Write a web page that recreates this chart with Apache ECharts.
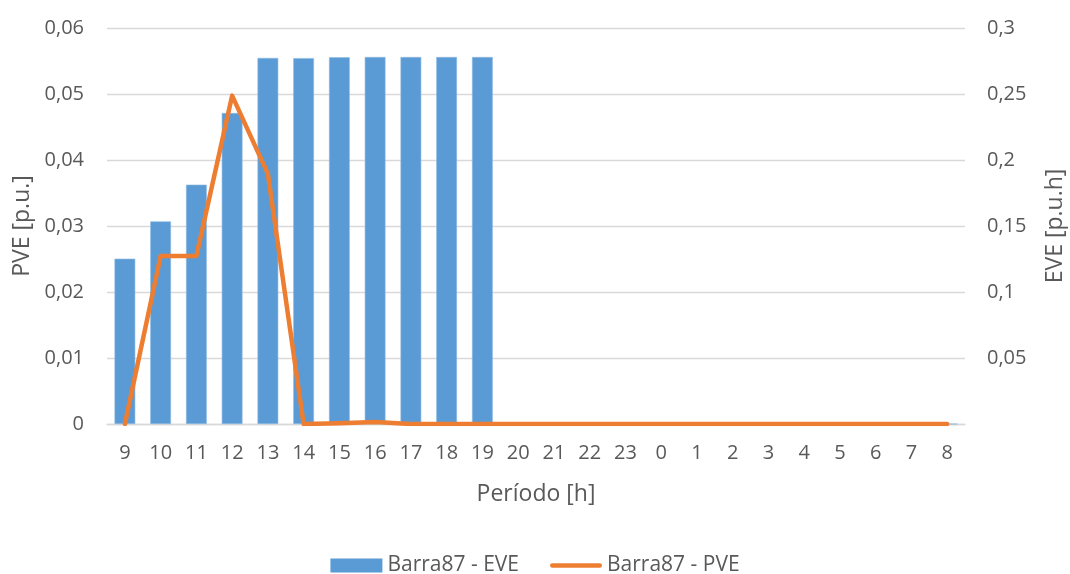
<!DOCTYPE html>
<html>
<head>
<meta charset="utf-8">
<script src="https://cdn.jsdelivr.net/npm/echarts@6/dist/echarts.min.js"></script>
<style>
  html, body { margin: 0; padding: 0; background: #ffffff; }
  #chart { width: 1070px; height: 574px; }
</style>
</head>
<body>
<div id="chart"></div>
<script>
// Hours of the day, starting at 9h
const hours = ['9','10','11','12','13','14','15','16','17','18','19','20','21','22','23','0','1','2','3','4','5','6','7','8'];
// Barra87 energy (EVE) [p.u.h] — right axis
const eveValues = [0.1252, 0.1535, 0.1813, 0.2356, 0.2773, 0.2772, 0.2778, 0.2780, 0.2780, 0.2780, 0.2780, 0, 0, 0, 0, 0, 0, 0, 0, 0, 0, 0, 0, 0];
// Barra87 power (PVE) [p.u.] — left axis
const pveValues = [0, 0.02545, 0.02545, 0.04975, 0.0379, 0, 0.0001, 0.0003, 0, 0, 0, 0, 0, 0, 0, 0, 0, 0, 0, 0, 0, 0, 0, 0];
const seriesNames = ['Barra87 - EVE', 'Barra87 - PVE'];

const textColor = '#595959';
const gridColor = '#d9d9d9';
const barColor = '#5B9BD5';
const lineColor = '#ED7D31';
const font = '"Open Sans", sans-serif';

function decimalComma(v) {
  return String(+v.toFixed(4)).replace('.', ',');
}

// thick rounded stroke used as the line series' legend key
const lineKey = 'path://M2.5,0 L53.5,0 A2.5,2.5 0 0 1 53.5,5 L2.5,5 A2.5,2.5 0 0 1 2.5,0 Z';

const chart = echarts.init(document.getElementById('chart'), null, { renderer: 'canvas' });
chart.setOption({
  animation: false,
  textStyle: { fontFamily: font },
  grid: { left: 107, right: 105, top: 28, bottom: 150, containLabel: false, outerBoundsMode: 'none' },
  legend: {
    bottom: -7,
    left: 'center',
    itemWidth: 52,
    itemHeight: 14,
    itemGap: 31,
    textStyle: { color: textColor, fontSize: 21, fontFamily: font },
    data: [
      { name: seriesNames[0], icon: 'rect', itemStyle: { color: barColor, borderWidth: 0 } },
      { name: seriesNames[1], icon: lineKey, itemStyle: { color: lineColor, borderWidth: 0 } }
    ]
  },
  xAxis: {
    type: 'category',
    data: hours,
    name: 'Período [h]',
    nameLocation: 'middle',
    nameGap: 59,
    nameTextStyle: { color: textColor, fontSize: 23, fontFamily: font },
    axisLine: { show: true, lineStyle: { color: gridColor, width: 1.3 } },
    axisTick: { show: false },
    axisLabel: { color: textColor, fontSize: 20, fontFamily: font, margin: 19, interval: 0 }
  },
  yAxis: [
    {
      type: 'value',
      min: 0, max: 0.06, interval: 0.01,
      name: 'PVE [p.u.]',
      nameLocation: 'middle',
      nameGap: 70,
      nameTextStyle: { color: textColor, fontSize: 23, fontFamily: font },
      axisLine: { show: false },
      axisTick: { show: false },
      splitLine: { lineStyle: { color: gridColor, width: 1.3 } },
      axisLabel: { color: textColor, fontSize: 20, fontFamily: font, margin: 23, formatter: decimalComma }
    },
    {
      type: 'value',
      min: 0, max: 0.3, interval: 0.05,
      name: 'EVE [p.u.h]',
      nameLocation: 'middle',
      nameGap: 79,
      nameTextStyle: { color: textColor, fontSize: 23, fontFamily: font },
      axisLine: { show: false },
      axisTick: { show: false },
      splitLine: { show: false },
      axisLabel: {
        color: textColor, fontSize: 20, fontFamily: font, margin: 22,
        formatter: v => (v === 0 ? '' : decimalComma(v))
      }
    }
  ],
  series: [
    {
      name: seriesNames[0],
      type: 'bar',
      yAxisIndex: 1,
      data: eveValues,
      barWidth: '58%',
      itemStyle: { color: barColor, borderColor: '#8cb9e3', borderWidth: 0.6 },
      z: 2
    },
    {
      name: seriesNames[1],
      type: 'line',
      yAxisIndex: 0,
      data: pveValues,
      symbol: 'none',
      showSymbol: false,
      lineStyle: { color: lineColor, width: 4.5, cap: 'round', join: 'round' },
      itemStyle: { color: lineColor },
      z: 3
    }
  ]
});
</script>
</body>
</html>
